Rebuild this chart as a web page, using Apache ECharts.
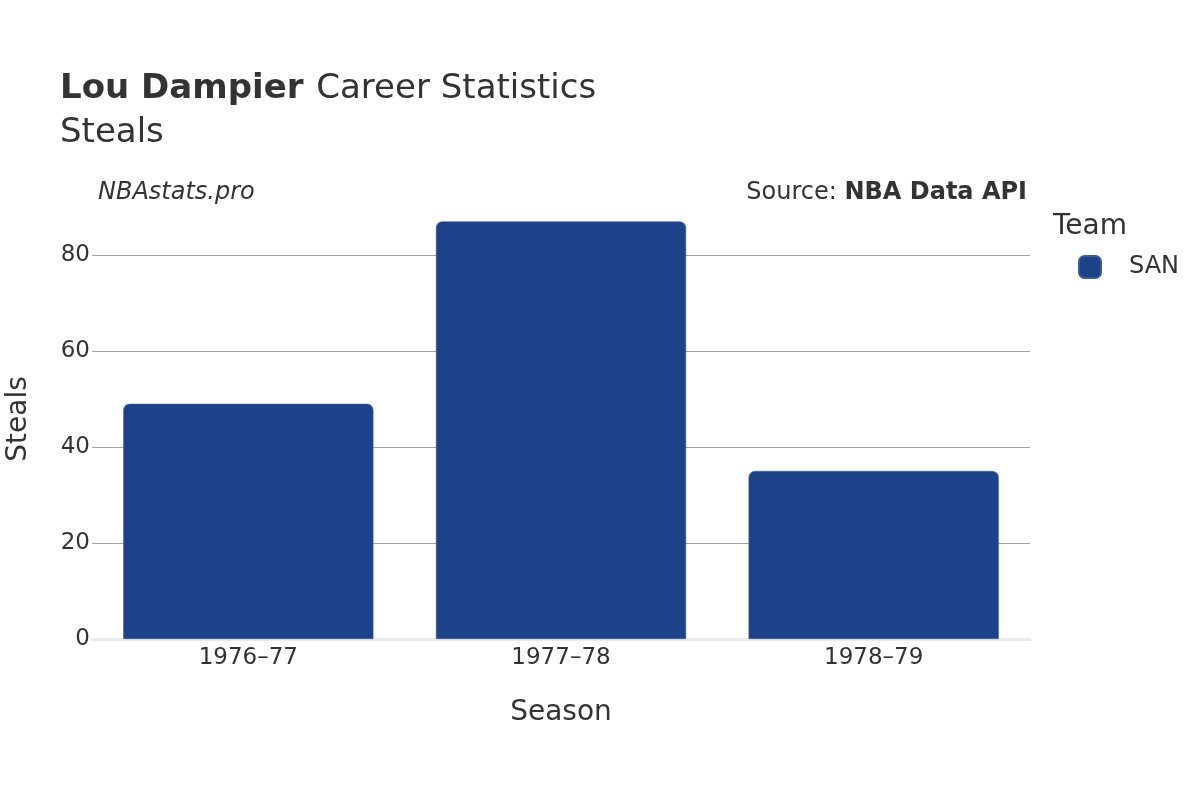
<!DOCTYPE html>
<html>
<head>
<meta charset="utf-8">
<script src="https://cdn.jsdelivr.net/npm/echarts@6/dist/echarts.min.js"></script>
<style>
html,body{margin:0;padding:0;background:#fff;}
#chart{width:1200px;height:800px;}
</style>
</head>
<body>
<div id="chart"></div>
<script>
const seasons = ['1976–77', '1977–78', '1978–79'];
const steals = [49, 87, 35];
const teamName = 'SAN';
const yTicks = [0, 20, 40, 60, 80];

const FONT = '"DejaVu Sans", sans-serif';
const TXT = '#333333';

const chart = echarts.init(document.getElementById('chart'), null, {renderer: 'canvas'});
chart.setOption({
  animation: false,
  backgroundColor: '#ffffff',
  textStyle: {fontFamily: FONT, color: TXT},
  title: [{
    text: '{b|Lou Dampier}{n| Career Statistics}\n{n|Steals}',
    left: 60, top: 67, padding: 0,
    textStyle: {
      fontWeight: 'normal',
      rich: {
        b: {fontFamily: FONT, fontSize: 34, fontWeight: 'bold', color: TXT, lineHeight: 44, padding: [0, 2, 0, 0]},
        n: {fontFamily: FONT, fontSize: 34, fontWeight: 'normal', color: TXT, lineHeight: 44}
      }
    }
  }],
  graphic: [
    {type: 'text', left: 98, top: 181, style: {text: 'NBAstats.pro', font: 'italic 24px ' + FONT, fill: TXT}},
    {type: 'text', right: 173, top: 181, style: {
      text: '{n|Source: }{b|NBA Data API}',
      rich: {n: {fontFamily: FONT, fontSize: 24, fill: TXT}, b: {fontFamily: FONT, fontSize: 24, fontWeight: 'bold', fill: TXT}}
    }},
    {type: 'text', left: 1053, top: 213, style: {text: 'Team', font: '28px ' + FONT, fill: TXT}},
    {type: 'text', x: 19, y: 419, rotation: Math.PI / 2, style: {text: 'Steals', font: '28px ' + FONT, fill: TXT, align: 'center', verticalAlign: 'middle'}}
  ],
  legend: {
    data: [teamName],
    left: 1078, top: 255, padding: 0,
    icon: 'roundRect',
    itemWidth: 22, itemHeight: 22,
    itemGap: 10,
    textStyle: {fontFamily: FONT, fontSize: 24, color: TXT, padding: [0, 0, 0, 23]}
  },
  grid: {left: 92, right: 170, top: 255, bottom: 161, containLabel: false, outerBoundsMode: 'none'},
  xAxis: {
    type: 'category',
    data: seasons,
    name: 'Season',
    nameLocation: 'middle',
    nameGap: 60,
    nameTextStyle: {fontFamily: FONT, fontSize: 28, color: TXT},
    axisLine: {show: true, lineStyle: {color: '#ebebeb', width: 3}},
    axisTick: {show: false},
    axisLabel: {fontFamily: FONT, fontSize: 23, color: TXT, margin: 8}
  },
  yAxis: {
    type: 'value',
    min: 0, max: yTicks[yTicks.length - 1], interval: 20,
    axisLine: {show: false},
    axisTick: {show: false},
    axisLabel: {fontFamily: FONT, fontSize: 23, color: TXT, margin: 2},
    splitLine: {show: true, lineStyle: {color: '#a3a3a3', width: 1}}
  },
  series: [{
    name: teamName,
    type: 'bar',
    data: steals,
    clip: false,
    barCategoryGap: '20%',
    itemStyle: {color: '#1d428a', borderRadius: [6, 6, 0, 0], borderColor: '#3a5a98', borderWidth: 0.5},
    z: 3
  }]
});
</script>
</body>
</html>
